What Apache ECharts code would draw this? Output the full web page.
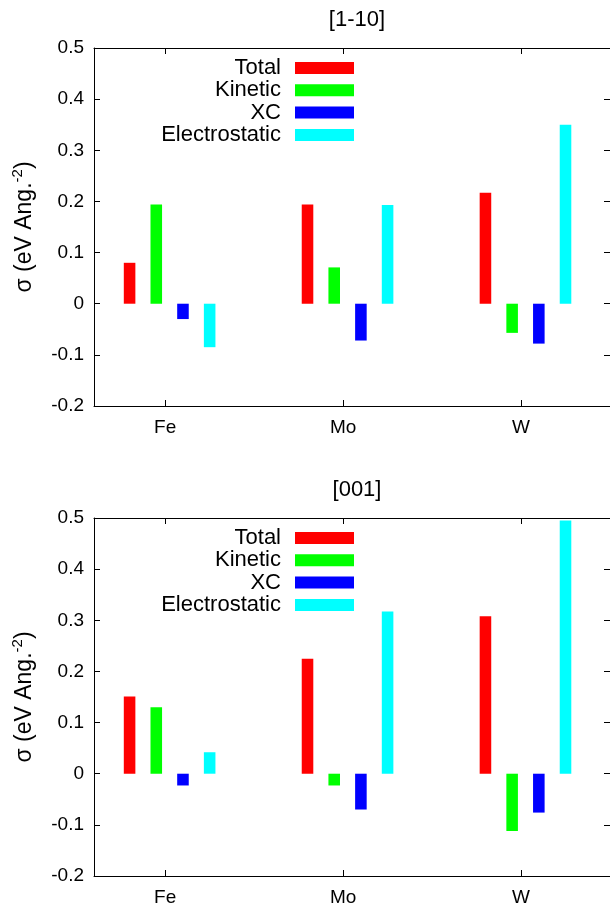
<!DOCTYPE html>
<html>
<head>
<meta charset="utf-8">
<script src="https://cdn.jsdelivr.net/npm/echarts@6/dist/echarts.min.js"></script>
<style>
  html, body { margin: 0; padding: 0; background: #fff; }
  #chart { width: 610px; height: 910px; }
</style>
</head>
<body>
<div id="chart"></div>
<script>
// 两个面板的数据
var categories = ['Fe', 'Mo', 'W'];
var seriesNames = ['Total', 'Kinetic', 'XC', 'Electrostatic'];
var panelTitles = ['[1-10]', '[001]'];
var yTicks = [-0.2, -0.1, 0, 0.1, 0.2, 0.3, 0.4, 0.5];

// [1-10]
var total110 = [0.080, 0.194, 0.217];
var kinetic110 = [0.194, 0.071, -0.057];
var xc110 = [-0.030, -0.072, -0.078];
var electro110 = [-0.085, 0.193, 0.350];

// [001]
var total001 = [0.151, 0.225, 0.308];
var kinetic001 = [0.130, -0.023, -0.112];
var xc001 = [-0.023, -0.070, -0.076];
var electro001 = [0.042, 0.317, 0.495];

var colors = ['#ff0000', '#00ff00', '#0000ff', '#00ffff'];
var offsets = [-0.2, -0.05, 0.1, 0.25]; // 每组柱子相对刻度的偏移
var boxWidth = 0.065;
var font = 'Liberation Sans, Arial, Helvetica, sans-serif';

var panels = [
    [total110, kinetic110, xc110, electro110],
    [total001, kinetic001, xc001, electro001]
];
var gridTops = [48, 518];
var gridHeight = 358;

function renderBar(params, api) {
    var x = api.value(0);
    var y = api.value(1);
    var p0 = api.coord([x, 0]);
    var p1 = api.coord([x, y]);
    var w = api.size([boxWidth, 0])[0];
    return {
        type: 'rect',
        shape: {
            x: p0[0] - w / 2,
            y: Math.min(p0[1], p1[1]),
            width: w,
            height: Math.abs(p1[1] - p0[1])
        },
        style: api.style()
    };
}

var option = {
    animation: false,
    backgroundColor: '#fff',
    title: [],
    grid: [],
    xAxis: [],
    yAxis: [],
    legend: [],
    series: []
};

panels.forEach(function (panel, p) {
    option.title.push({
        text: panelTitles[p],
        left: 352,
        top: gridTops[p] - 44,
        textAlign: 'center',
        textStyle: { fontFamily: font, fontSize: 22, fontWeight: 'normal', color: '#000' }
    });
    option.grid.push({ left: 94, right: -2, top: gridTops[p], height: gridHeight });

    // 下轴 + 上轴(镜像刻度)
    ['bottom', 'top'].forEach(function (pos) {
        option.xAxis.push({
            type: 'value',
            gridIndex: p,
            position: pos,
            min: 0.6,
            max: 3.5,
            splitLine: { show: false },
            axisLine: { show: true, onZero: false, lineStyle: { color: '#000', width: 1 } },
            axisTick: {
                show: true, inside: true, length: 6,
                customValues: [1, 2, 3],
                lineStyle: { color: '#000' }
            },
            axisLabel: {
                show: pos === 'bottom',
                customValues: [1, 2, 3],
                margin: 12,
                fontFamily: font,
                fontSize: 19,
                color: '#000',
                formatter: function (v) { return categories[Math.round(v) - 1]; }
            }
        });
    });

    ['left', 'right'].forEach(function (pos) {
        option.yAxis.push({
            type: 'value',
            gridIndex: p,
            position: pos,
            min: yTicks[0],
            max: yTicks[yTicks.length - 1],
            interval: 0.1,
            name: pos === 'left' ? '{a|σ (eV Ang.}{b|-2}{a|)}' : '',
            nameLocation: 'middle',
            nameGap: 54,
            nameTextStyle: {
                rich: {
                    a: { fontFamily: font, fontSize: 23, color: '#000', lineHeight: 30 },
                    b: { fontFamily: font, fontSize: 15, color: '#000', lineHeight: 15, verticalAlign: 'top' }
                }
            },
            splitLine: { show: false },
            axisLine: { show: true, onZero: false, lineStyle: { color: '#000', width: 1 } },
            axisTick: { show: true, inside: true, length: 6, lineStyle: { color: '#000' } },
            axisLabel: {
                show: pos === 'left',
                margin: 10,
                fontFamily: font,
                fontSize: 19,
                color: '#000',
                formatter: function (v) { return String(Math.round(v * 10) / 10); }
            }
        });
    });

    panel.forEach(function (values, s) {
        option.series.push({
            type: 'custom',
            name: seriesNames[s],
            xAxisIndex: p * 2,
            yAxisIndex: p * 2,
            itemStyle: { color: colors[s] },
            renderItem: renderBar,
            data: values.map(function (v, i) { return [i + 1 + offsets[s], v]; })
        });
        // 图例:每行单独放,右对齐
        option.legend.push({
            data: [seriesNames[s]],
            orient: 'vertical',
            align: 'right',
            right: 256,
            top: gridTops[p] + 9 + s * 22.3,
            padding: 0,
            icon: 'rect',
            itemWidth: 59,
            itemHeight: 12,
            selectedMode: false,
            textStyle: {
                fontFamily: font, fontSize: 22, color: '#000',
                lineHeight: 14, padding: [0, 9, 0, 0]
            }
        });
    });
});

var myChart = echarts.init(document.getElementById('chart'));
myChart.setOption(option);
window.addEventListener('resize', function () {
    myChart.resize();
});
</script>
</body>
</html>
